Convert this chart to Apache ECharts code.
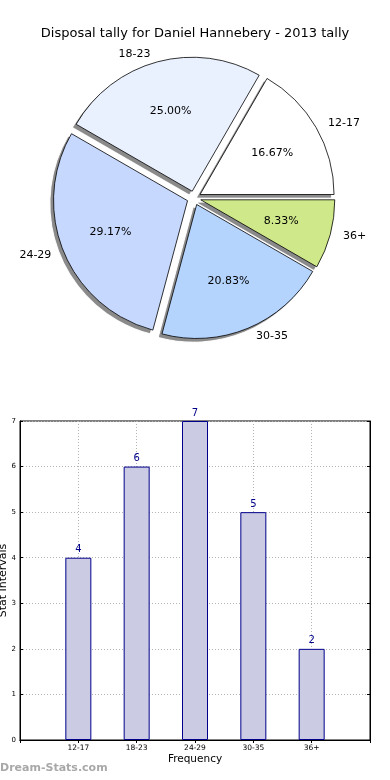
<!DOCTYPE html>
<html>
<head>
<meta charset="utf-8">
<script src="https://cdn.jsdelivr.net/npm/echarts@6/dist/echarts.min.js"></script>
<style>
html,body{margin:0;padding:0;background:#fff;}
#chart{width:390px;height:780px;}
</style>
</head>
<body>
<div id="chart"></div>
<script>
const titleText = 'Disposal tally for Daniel Hannebery - 2013 tally';
const categories = ['12-17', '18-23', '24-29', '30-35', '36+'];
const counts = [4, 6, 7, 5, 2];
const sliceColors = ['#ffffff', '#eaf1fe', '#c6d8fe', '#b4d4fe', '#cfe98a'];
const yTicks = [0, 1, 2, 3, 4, 5, 6, 7];
const xAxisName = 'Frequency';
const yAxisName = 'Stat Intervals';
const watermark = 'Dream-Stats.com';

const FONT = 'DejaVu Sans';
const total = counts.reduce((a, b) => a + b, 0);
const pieCenter = [194, 198];
const shadowCenter = [191, 201];
const R = 134;

const pieData = categories.map((c, i) => ({
  name: c, value: counts[i], selected: true,
  itemStyle: { color: sliceColors[i] }
}));
const pieShadowData = categories.map((c, i) => ({ name: c, value: counts[i], selected: true }));
const pieLabelData = categories.map((c, i) => ({ name: c, value: counts[i], selected: true }));

const padCats = [''].concat(categories, ['']);
const padVals = [null].concat(counts, [null]);

const gridLine = { show: true, lineStyle: { color: '#b4b4b4', type: [1, 2], width: 1 } };

const chart = echarts.init(document.getElementById('chart'), null, { renderer: 'canvas' });
chart.setOption({
  animation: false,
  backgroundColor: '#ffffff',
  title: {
    text: titleText, left: 'center', top: 22,
    textStyle: { fontFamily: FONT, fontSize: 13, fontWeight: 'normal', color: '#000' }
  },
  graphic: [{
    type: 'text', left: 0, top: 763,
    style: { text: watermark, fontFamily: FONT, fontSize: 11, fontWeight: 'bold', fill: '#a8a8a8' }
  }],
  grid: {
    left: 20, right: 20, top: 421, bottom: 40,
    containLabel: false, outerBoundsMode: 'none',
    show: true, borderColor: '#000', borderWidth: 1, backgroundColor: 'transparent'
  },
  xAxis: [{
    type: 'category', data: padCats, boundaryGap: false,
    name: xAxisName, nameLocation: 'middle', nameGap: 14,
    nameTextStyle: { fontFamily: FONT, fontSize: 10.5, color: '#000' },
    axisLine: { lineStyle: { color: '#000' } },
    axisTick: { inside: true, length: 3, lineStyle: { color: '#000' } },
    axisLabel: { fontFamily: FONT, fontSize: 7.5, color: '#000', margin: 4, interval: 0 },
    splitLine: gridLine
  }, {
    type: 'category', data: padCats, boundaryGap: false, position: 'top',
    axisLine: { lineStyle: { color: '#000' } },
    axisTick: { inside: true, length: 3, lineStyle: { color: '#000' } },
    axisLabel: { show: false }, splitLine: { show: false }
  }],
  yAxis: [{
    type: 'value', min: yTicks[0], max: yTicks[yTicks.length - 1], interval: 1,
    name: yAxisName, nameLocation: 'middle', nameGap: 11, nameRotate: 90,
    nameMoveOverlap: false,
    nameTextStyle: { fontFamily: FONT, fontSize: 11, color: '#000' },
    axisLine: { show: true, lineStyle: { color: '#000' } },
    axisTick: { show: true, inside: true, length: 3, lineStyle: { color: '#000' } },
    axisLabel: { fontFamily: FONT, fontSize: 7, color: '#000', margin: 4 },
    splitLine: gridLine
  }, {
    type: 'value', min: yTicks[0], max: yTicks[yTicks.length - 1], interval: 1, position: 'right',
    axisLine: { show: true, lineStyle: { color: '#000' } },
    axisTick: { show: true, inside: true, length: 3, lineStyle: { color: '#000' } },
    axisLabel: { show: false }, splitLine: { show: false }
  }],
  series: [
    {
      type: 'pie', center: shadowCenter, radius: [0, R],
      startAngle: 0, clockwise: false,
      selectedMode: 'multiple', selectedOffset: 7,
      avoidLabelOverlap: false,
      data: pieShadowData,
      itemStyle: { color: '#8a8a8a', borderWidth: 0, shadowColor: 'rgba(0,0,0,0.3)', shadowBlur: 1 },
      label: { show: false }, labelLine: { show: false },
      emphasis: { disabled: true }, silent: true
    },
    {
      type: 'pie', center: pieCenter, radius: [0, R],
      startAngle: 0, clockwise: false,
      selectedMode: 'multiple', selectedOffset: 7,
      avoidLabelOverlap: false,
      data: pieData,
      itemStyle: { borderColor: '#000', borderWidth: 0.8 },
      label: {
        show: true, position: 'outside', formatter: '{b}',
        fontFamily: FONT, fontSize: 11, color: '#000'
      },
      labelLine: { show: false, length: 8, length2: 0 },
      emphasis: { disabled: true }, silent: true
    },
    {
      type: 'pie', center: pieCenter, radius: [0, R * 1.2],
      startAngle: 0, clockwise: false,
      selectedMode: 'multiple', selectedOffset: 7,
      avoidLabelOverlap: false,
      data: pieLabelData,
      itemStyle: { color: 'rgba(0,0,0,0)', borderWidth: 0 },
      label: {
        show: true, position: 'inside',
        formatter: p => (p.value / total * 100).toFixed(2) + '%',
        fontFamily: FONT, fontSize: 11, color: '#000'
      },
      labelLine: { show: false },
      emphasis: { disabled: true }, silent: true
    },
    {
      type: 'bar', xAxisIndex: 0, yAxisIndex: 0,
      data: padVals, barWidth: 26,
      itemStyle: { color: '#cbcbe4', borderColor: '#00008b', borderWidth: 1 },
      label: { show: true, position: 'top', distance: 3, fontFamily: FONT, fontSize: 10, color: '#00008b' },
      emphasis: { disabled: true }, silent: true
    }
  ]
});
</script>
</body>
</html>
